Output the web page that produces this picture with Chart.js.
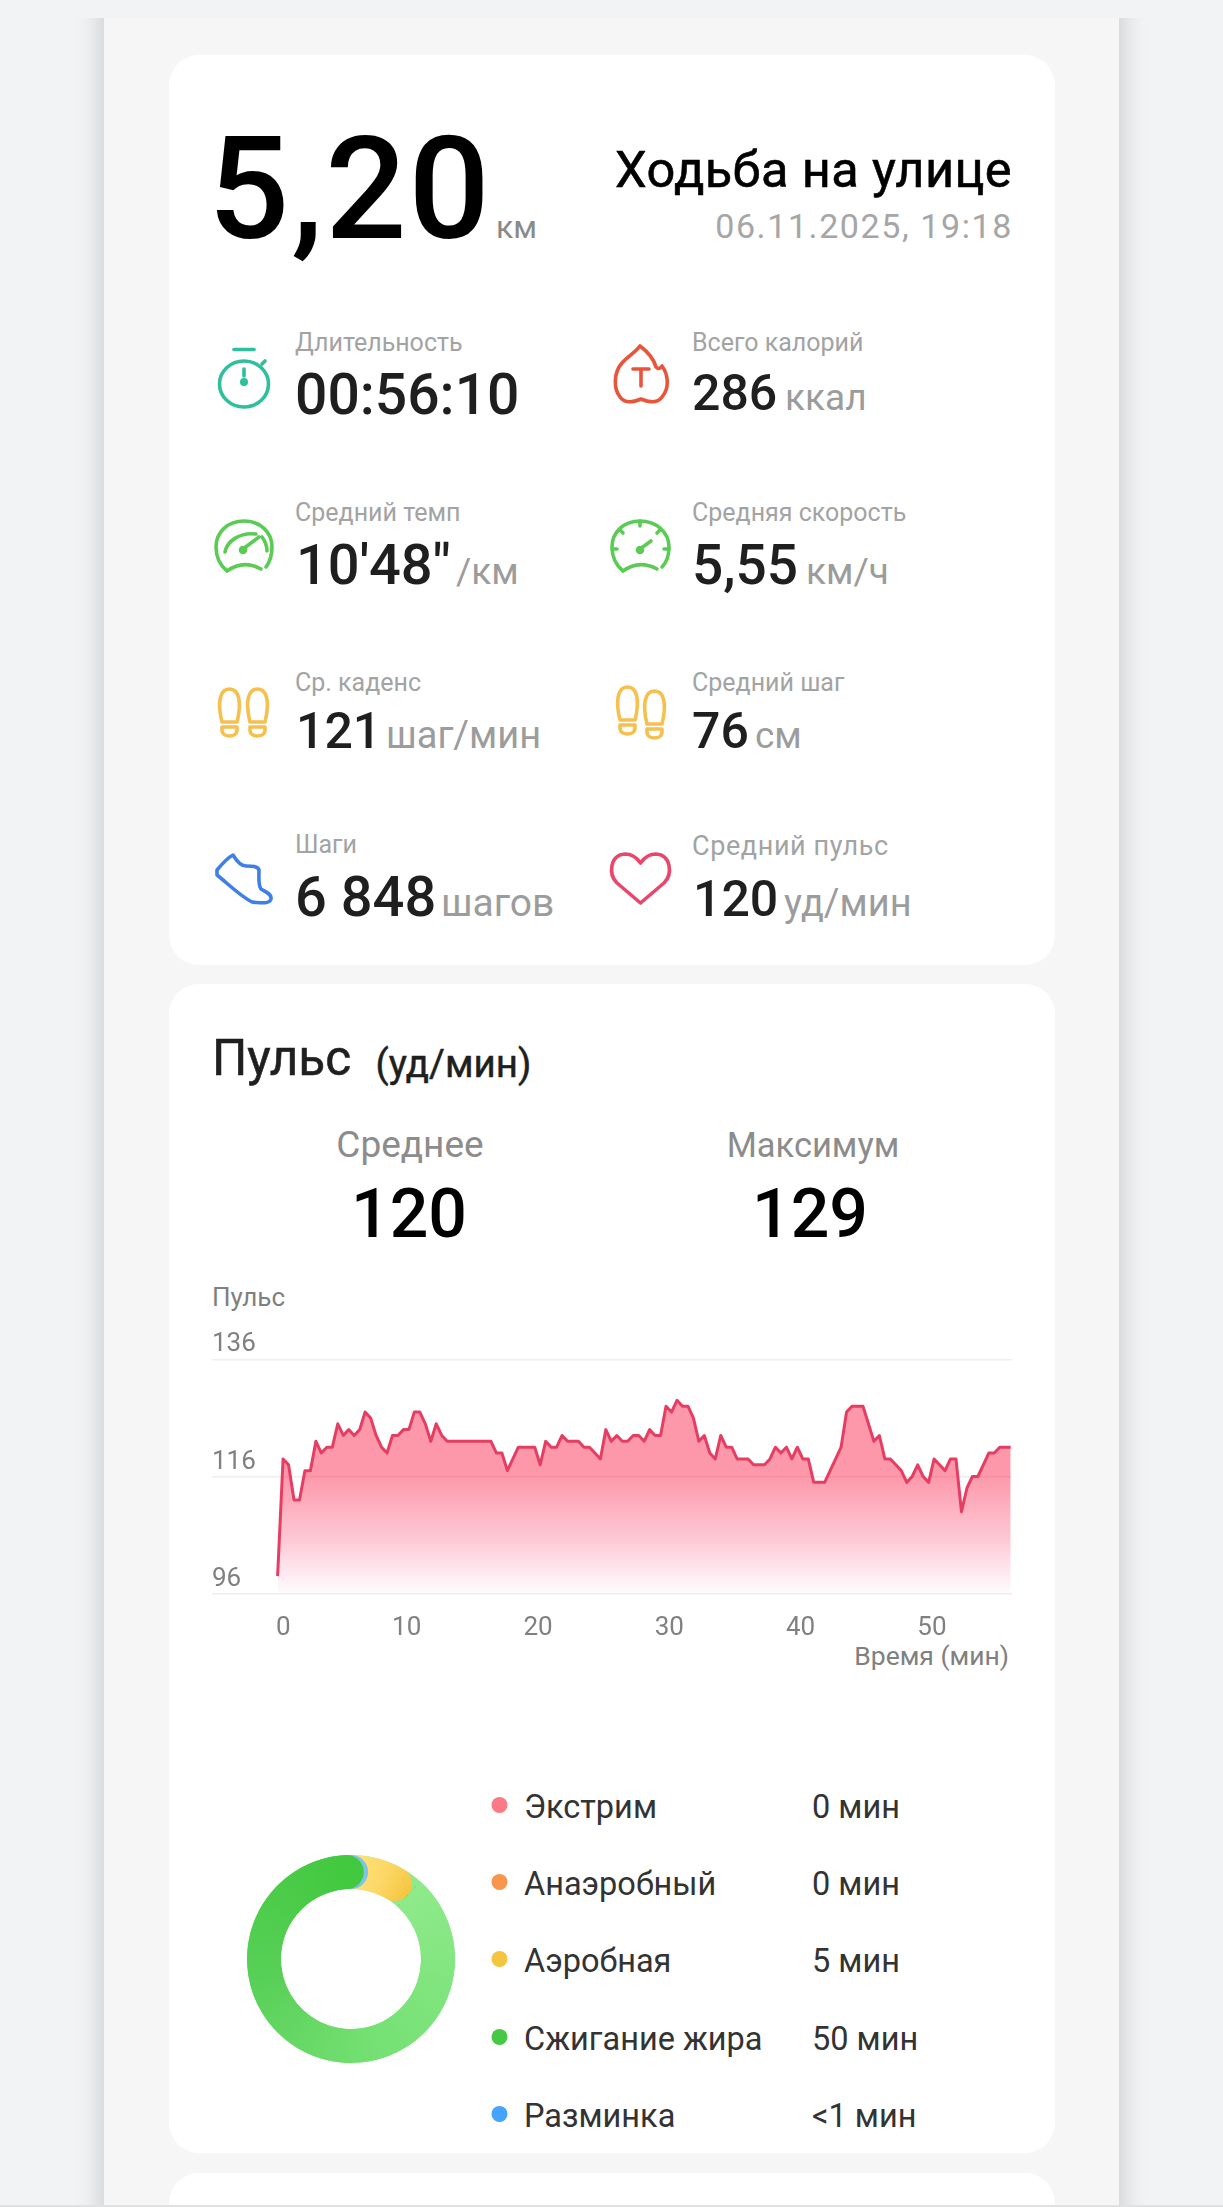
<!DOCTYPE html>
<html lang="ru">
<head>
<meta charset="utf-8">
<title>Ходьба на улице</title>
<script src="https://cdn.jsdelivr.net/npm/chart.js@4"></script>
<style>
html,body{margin:0;padding:0;background:#f1f3f5;}
#page{position:relative;width:1223px;height:2207px;overflow:hidden;background:#f1f3f5;font-family:Roboto,sans-serif;}
#clip{position:absolute;left:0;top:18px;width:1223px;height:2189px;overflow:hidden;}
#panel{position:absolute;left:104px;top:-40px;width:1015px;height:2300px;background:#f6f6f7;box-shadow:0 0 26px rgba(0,0,0,.2);}
.card{position:absolute;left:169px;width:886px;background:#fff;border-radius:30px;}
#bottomline{position:absolute;left:0;top:2205px;width:1223px;height:2px;background:#dfe1e3;}
svg#overlay{position:absolute;left:0;top:0;}
canvas{position:absolute;}
svg text{font-family:Roboto,sans-serif;}
.lab{font-size:25px;fill:#a3a3a3;}
.val{font-weight:500;fill:#1f1f1f;}
.unit{font-size:37px;fill:#9c9c9c;}
.axis{font-size:26px;fill:#808080;}
.zone{font-size:32.5px;fill:#333;}
</style>
</head>
<body>
<div id="page">
  <div id="clip"><div id="panel"></div></div>
  <div class="card" style="top:55px;height:910px"></div>
  <div class="card" style="top:984px;height:1169px"></div>
  <div class="card" style="top:2173px;height:60px"></div>
  <div id="bottomline"></div>

  <svg id="overlay" width="1223" height="2207" viewBox="0 0 1223 2207" xmlns="http://www.w3.org/2000/svg">
    <!-- header -->
    <text x="208" y="238" font-size="143" font-weight="500" letter-spacing="2" fill="#000">5,20</text>
    <text x="496" y="238" font-size="32" fill="#8a8a8a">км</text>
    <text x="1012" y="187" font-size="50.5" letter-spacing="0.4" fill="#000" stroke="#000" stroke-width="0.6" text-anchor="end">Ходьба на улице</text>
    <text x="1013" y="238" font-size="34" fill="#a6a6a6" letter-spacing="1.6" text-anchor="end">06.11.2025, 19:18</text>

    <!-- stats -->
    <text class="lab" x="295" y="351">Длительность</text>
    <text class="val" x="295" y="414" font-size="57">00:56:10</text>
    <text class="lab" x="692" y="351">Всего калорий</text>
    <text class="val" x="692" y="410" font-size="50">286</text><text class="unit" x="785" y="410">ккал</text>

    <text class="lab" x="295" y="521">Средний темп</text>
    <text class="val" x="296" y="584" font-size="56">10'48"</text><text class="unit" x="456" y="584">/км</text>
    <text class="lab" x="692" y="521">Средняя скорость</text>
    <text class="val" x="692" y="584" font-size="55">5,55</text><text class="unit" x="806" y="584">км/ч</text>

    <text class="lab" x="295" y="691">Ср. каденс</text>
    <text class="val" x="296" y="748" font-size="50">121</text><text class="unit" x="386" y="748" style="font-size:38px">шаг/мин</text>
    <text class="lab" x="692" y="691">Средний шаг</text>
    <text class="val" x="692" y="748" font-size="50">76</text><text class="unit" x="755" y="748">см</text>

    <text class="lab" x="295" y="853">Шаги</text>
    <text class="val" x="295" y="916" font-size="56">6 848</text><text class="unit" x="441" y="916" style="font-size:39px">шагов</text>
    <text class="lab" x="692" y="855" style="font-size:27px" letter-spacing="0.6">Средний пульс</text>
    <text class="val" x="693" y="916" font-size="50">120</text><text class="unit" x="784" y="916" style="font-size:38px">уд/мин</text>

    <!-- icons -->
    <g fill="none" stroke="#2fbf9c" stroke-width="3.6" stroke-linecap="round">
      <ellipse cx="244" cy="384" rx="24.5" ry="23"/>
      <line x1="234" y1="349.5" x2="254" y2="349.5"/>
      <line x1="262" y1="364" x2="265" y2="361"/>
      <line x1="244" y1="369" x2="244" y2="376"/>
      <circle cx="244" cy="382" r="2.2" fill="#2fbf9c"/>
    </g>
    <g fill="none" stroke="#e8553a" stroke-width="3.6" stroke-linecap="round" stroke-linejoin="round">
      <path d="M640 346 C636 352 628 356 622 363 C614 372 613 388 620 397 C625 404 634 402 641 399 C648 402 657 404 662 397 C670 388 668 374 662 366 C660 369 658 369 656 367 C654 360 648 352 640 346 Z"/>
      <path d="M633 369 H649 M641 369 V386"/>
    </g>
    <g fill="none" stroke="#5ccb55" stroke-width="3.6" stroke-linecap="round" stroke-linejoin="round">
      <path d="M227 571 C221 566 216 558 216 547 C216 532 228 521 244 521 C260 521 272 532 272 547 C272 555 269 563 266 567 M227 571 C238 563 250 563 261 569"/>
      <path d="M225 552 C227 541 240 532 256 534 M262 537 C265 541 267 546 267 551"/>
      <path d="M243 549 L259 537"/><circle cx="243" cy="550" r="2.5" fill="#5ccb55"/>
    </g>
    <g fill="none" stroke="#5ccb55" stroke-width="3.6" stroke-linecap="round" stroke-linejoin="round">
      <path d="M623 571 C617 566 612 558 612 547 C612 532 624 521 640 521 C656 521 669 532 669 547 C669 555 666 563 662 567 M623 571 C634 563 646 563 657 569"/>
      <path d="M640 521 V526 M620 530 L623 533 M660 530 L657 533 M612 549 H617 M669 549 H664"/>
      <path d="M640 549 L651 541"/><circle cx="640" cy="550" r="2.5" fill="#5ccb55"/>
    </g>
    <g fill="none" stroke="#f5c04e" stroke-width="3.6" stroke-linejoin="round">
      <path d="M222 722 C217 702 220 689 229.5 689 C239 689 242 702 237 722 Z"/>
      <path d="M222 727 H237 V730 C237 738 222 738 222 730 Z"/>
      <path d="M250 722 C245 702 248 689 257.5 689 C267 689 270 702 265 722 Z"/>
      <path d="M250 727 H265 V730 C265 738 250 738 250 730 Z"/>
      <path d="M620 720 C615 700 618 687 627.5 687 C637 687 640 700 635 720 Z"/>
      <path d="M620 725 H635 V728 C635 736 620 736 620 728 Z"/>
      <path d="M647 724 C642 704 645 691 654.5 691 C664 691 667 704 662 724 Z"/>
      <path d="M647 729 H662 V732 C662 740 647 740 647 732 Z"/>
    </g>
    <path fill="none" stroke="#3f7fe8" stroke-width="3.6" stroke-linejoin="round" d="M217 870 C222 864 227 858 233 855 C236 860 240 866 246 866 C252 866 258 866 259 870 C259 878 258 885 261 889 C266 892 272 894 271 899 C270 904 262 903 252 902 C240 896 226 882 217 875 Z"/>
    <path fill="none" stroke="#e8476b" stroke-width="3.6" stroke-linejoin="round" d="M640.5 903 L617 883 C608 874 610 855 625 854 C632 854 637 858 640.5 863 C644 858 649 854 656 854 C671 855 673 874 664 883 Z"/>

    <!-- pulse header -->
    <text x="212" y="1075" font-size="49.5" fill="#1f1f1f" stroke="#1f1f1f" stroke-width="0.6">Пульс</text>
    <text x="375.5" y="1077" font-size="38.5" fill="#1f1f1f" stroke="#1f1f1f" stroke-width="0.5">(уд/мин)</text>
    <text x="410" y="1157" font-size="37" fill="#8c8c8c" text-anchor="middle">Среднее</text>
    <text x="813" y="1157" font-size="34.5" fill="#8c8c8c" text-anchor="middle">Максимум</text>
    <text x="409" y="1237" font-size="68" font-weight="500" fill="#000" text-anchor="middle">120</text>
    <text x="810" y="1237" font-size="68" font-weight="500" fill="#000" text-anchor="middle">129</text>
    <text class="axis" x="212" y="1306">Пульс</text>
    <text class="axis" x="1009" y="1665" text-anchor="end" style="font-size:26.5px">Время (мин)</text>

    <!-- ring track under the zone arcs -->
    <circle cx="351" cy="1959" r="87" fill="none" stroke="#8eea8a" stroke-width="34"/>
    <g id="zones"></g>
  </svg>

  <canvas id="pulse" width="800" height="320" style="left:212px;top:1320px;width:800px;height:320px"></canvas>
  <canvas id="ringAerobic" width="220" height="220" style="left:241px;top:1849px;width:220px;height:220px"></canvas>
  <canvas id="ringWarmup" width="220" height="220" style="left:241px;top:1849px;width:220px;height:220px"></canvas>
  <canvas id="ringFat" width="220" height="220" style="left:241px;top:1849px;width:220px;height:220px"></canvas>
</div>

<script>
// ---- data ----
const elapsedSeconds = [
  10,35,60,85,110,135,160,185,210,235,
  260,285,310,335,360,385,410,435,460,485,
  510,535,560,585,610,635,660,685,710,735,
  760,785,810,835,860,885,910,935,960,985,
  1010,1035,1060,1085,1110,1135,1160,1185,1210,1235,
  1260,1285,1310,1335,1360,1385,1410,1435,1460,1485,
  1510,1535,1560,1585,1610,1635,1660,1685,1710,1735,
  1760,1785,1810,1835,1860,1885,1910,1935,1960,1985,
  2010,2035,2060,2085,2110,2135,2160,2185,2210,2235,
  2260,2285,2310,2335,2360,2385,2410,2435,2460,2485,
  2510,2535,2560,2585,2610,2635,2660,2685,2710,2735,
  2760,2785,2810,2835,2860,2885,2910,2935,2960,2985,
  3010,3035,3060,3085,3110,3135,3160,3185,3210,3235,
  3260,3285,3310,3335,3360
];
const heartRate = [
  99,119,118,112,112,117,117,122,120,121,
  121,125,123,124,123,124,127,126,123,121,
  120,123,123,124,124,127,127,125,122,125,
  123,122,122,122,122,122,122,122,122,122,
  120,120,117,119,121,121,121,121,118,122,
  121,121,123,122,122,122,121,121,120,119,
  124,122,123,122,122,123,123,122,124,123,
  123,128,127,129,128,128,126,122,123,120,
  119,123,121,121,119,119,119,118,118,118,
  119,121,120,121,119,121,119,119,115,115,
  115,117,119,121,127,128,128,128,125,122,
  123,119,119,118,117,115,116,118,116,115,
  119,118,117,119,119,110,114,116,116,118,
  120,120,121,121,121
];
const xTickMinutes = [0,10,20,30,40,50];
const yTickValues = [96,116,136];
const zoneNames = ['Экстрим','Анаэробный','Аэробная','Сжигание жира','Разминка'];
const zoneLabels = ['0 мин','0 мин','5 мин','50 мин','<1 мин'];
const zoneMinutes = [0,0,5,50,0.5];
const zoneColors = ['#fb7a85','#f9964d','#f5c542','#46c845','#46a3ff'];

// ---- pulse line chart ----
const noAnim = {animation:false,responsive:false,devicePixelRatio:1,events:[]};
new Chart(document.getElementById('pulse'),{
  type:'line',
  data:{datasets:[{
    data:elapsedSeconds.map((s,i)=>({x:s/60,y:heartRate[i]})),
    borderColor:'#e63e62',borderWidth:3,pointRadius:0,tension:0,
    borderJoinStyle:'round',fill:'start',
    backgroundColor(c){
      const a=c.chart.chartArea; if(!a) return 'transparent';
      const g=c.chart.ctx.createLinearGradient(0,a.top+30,0,a.bottom);
      g.addColorStop(0,'rgba(250,50,85,.5)');
      g.addColorStop(.42,'rgba(250,50,85,.5)');
      g.addColorStop(.72,'rgba(250,50,95,.28)');
      g.addColorStop(1,'rgba(250,50,120,.01)');
      return g;
    }
  }]},
  options:{...noAnim,
    layout:{padding:{top:39.3,left:0,right:0,bottom:0}},
    plugins:{legend:{display:false},tooltip:{enabled:false}},
    scales:{
      x:{type:'linear',min:-4.83,max:56.1,
        grid:{display:false},border:{display:false},
        afterBuildTicks(s){s.ticks=xTickMinutes.map(v=>({value:v===0?0.6:v}));},
        afterFit(s){s.height=46.3;},
        ticks:{autoSkip:false,maxRotation:0,padding:11,color:'#808080',font:{family:'Roboto',size:26},
          callback:v=>String(Math.round(v/10)*10)}
      },
      y:{min:96,max:136,
        afterBuildTicks(s){s.ticks=yTickValues.map(v=>({value:v}));},
        afterFit(s){s.width=0;},
        grid:{color:'#eeeeee',lineWidth:1.6,drawTicks:false},border:{display:false},
        ticks:{mirror:true,padding:0,labelOffset:-14.5,color:'#808080',font:{family:'Roboto',size:26}}
      }
    }
  }
});

// ---- zone legend ----
const zonesG=document.getElementById('zones');
const NS='http://www.w3.org/2000/svg';
zoneNames.forEach((n,i)=>{
  const dy=[0,77,154,232,309][i];
  const c=document.createElementNS(NS,'circle');
  c.setAttribute('cx',499.5);c.setAttribute('cy',1805+dy);c.setAttribute('r',8);c.setAttribute('fill',zoneColors[i]);
  zonesG.appendChild(c);
  const t=document.createElementNS(NS,'text');
  t.setAttribute('class','zone');t.setAttribute('x',524);t.setAttribute('y',1817.5+dy);t.textContent=n;
  zonesG.appendChild(t);
  const v=document.createElementNS(NS,'text');
  v.setAttribute('class','zone');v.setAttribute('x',812);v.setAttribute('y',1817.5+dy);v.textContent=zoneLabels[i];
  zonesG.appendChild(v);
});

// ---- zone doughnut: each zone is its own round-capped arc, layered so caps overlap ----
const totalMinutes=zoneMinutes.reduce((a,b)=>a+b,0);
const degOf=m=>m/totalMinutes*360;
function zoneArc(id,minutes,extraDeg,startDeg,fill){
  const sweep=degOf(minutes)+extraDeg;
  new Chart(document.getElementById(id),{
    type:'doughnut',
    data:{labels:['zone','rest'],datasets:[{
      data:[sweep,360-sweep],
      borderWidth:0,
      borderRadius:[{outerStart:0,innerStart:0,outerEnd:17,innerEnd:17},0],
      backgroundColor(c){return c.dataIndex===0?fill(c.chart):'rgba(0,0,0,0)';}
    }]},
    options:{...noAnim,rotation:startDeg,circumference:360,cutout:70,
      layout:{padding:6},plugins:{legend:{display:false},tooltip:{enabled:false}}}
  });
}
const conic=(start,stops)=>chart=>{
  const g=chart.ctx.createConicGradient((start-90)*Math.PI/180,110,110);
  stops.forEach(([p,c])=>g.addColorStop(p,c));
  return g;
};
const capEnd=41.7;
zoneArc('ringAerobic',zoneMinutes[2],12,capEnd-degOf(zoneMinutes[2])-12,
  conic(0,[[0,'#ffe27a'],[.06,'#fdd766'],[.115,'#f5c53f'],[1,'#f5c53f']]));
zoneArc('ringWarmup',zoneMinutes[4],32,-24,()=>'#7cc4e8');
zoneArc('ringFat',zoneMinutes[3],2.4,capEnd,
  conic(capEnd,[[0,'#8eea8a'],[.35,'#74e073'],[.6,'#58d057'],[.85,'#44c941'],[1,'#3fc83c']]));
</script>
</body>
</html>
